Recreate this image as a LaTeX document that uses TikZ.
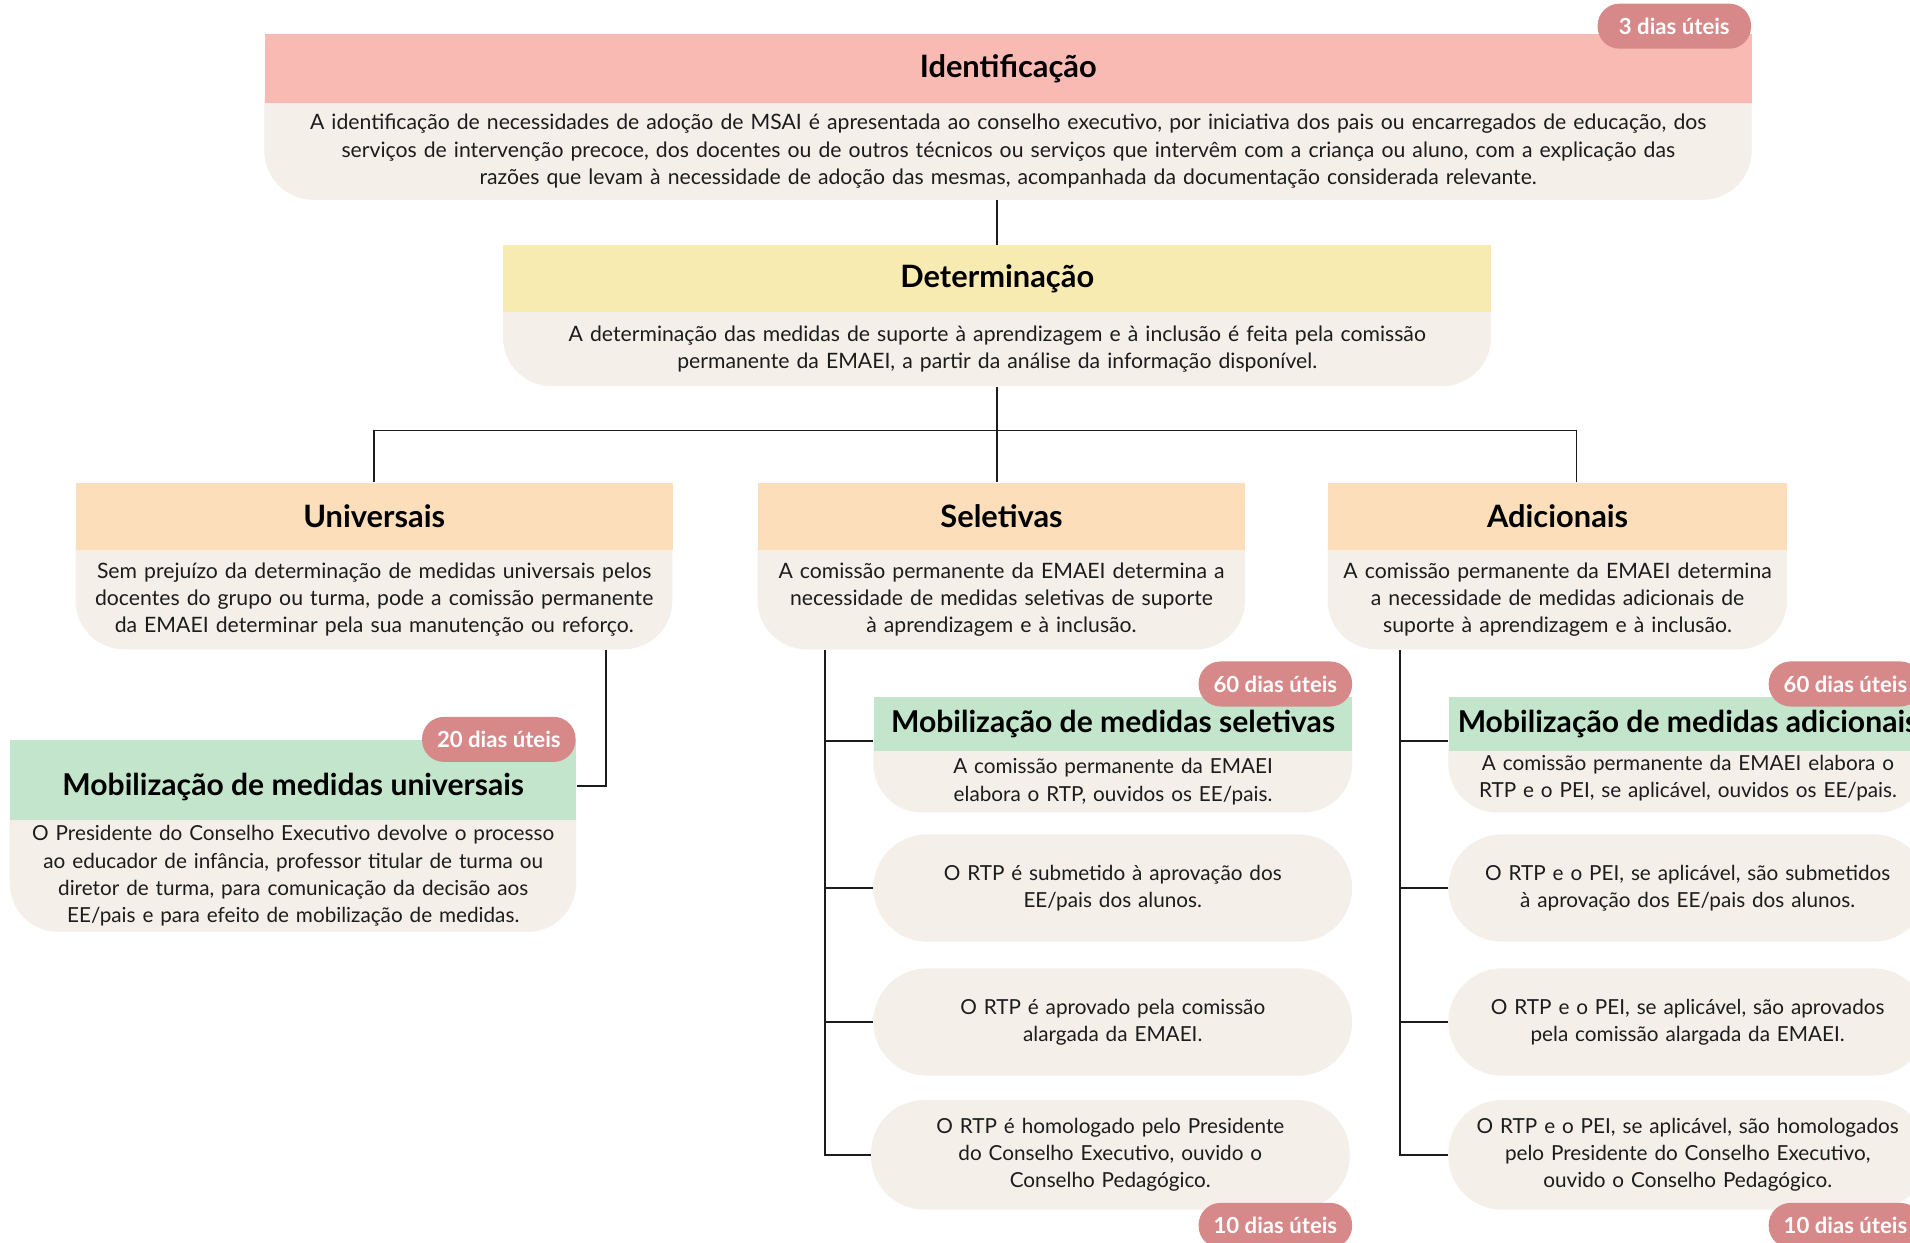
\documentclass[tikz,border=0pt]{standalone}
\usepackage{fontspec}
\setmainfont{Lato}
\definecolor{pinkH}{HTML}{F9BAB4}
\definecolor{yellowH}{HTML}{F8EBB1}
\definecolor{peachH}{HTML}{FCDFBA}
\definecolor{greenH}{HTML}{C2E5CB}
\definecolor{beigeB}{HTML}{F4EFE9}
\definecolor{badgeC}{HTML}{D78888}
\definecolor{inkC}{HTML}{1C1C1C}
\newcommand\stage[9]{%
  \pgfmathsetmacro\sW{#3-#2}%
  \pgfmathsetmacro\sHh{#5-#4}%
  \pgfmathsetmacro\sHb{#6-#5}%
  \pgfmathsetmacro\sTW{#3-#2-8}%
  \fill[beigeB, rounded corners=40pt] (#2,#5-40) rectangle (#3,#6);
  \node[#7, anchor=north west, minimum width=\sW pt, minimum height=\sHh pt] (#1-h) at (#2,#4) {#8};
  \node[stagebody, anchor=north west, minimum width=\sW pt, minimum height=\sHb pt, text width=\sTW pt] (#1-b) at (#2,#5) {#9};
}
\begin{document}
\begin{tikzpicture}[x=1pt,y=-1pt,
  hdr/.style={inner sep=0pt, text=black, font=\fontsize{25.3}{28}\selectfont\bfseries},
  hpink/.style={hdr, fill=pinkH},
  hyellow/.style={hdr, fill=yellowH},
  hpeach/.style={hdr, fill=peachH},
  hgreen/.style={hdr, fill=greenH, font=\fontsize{24.7}{28}\selectfont\bfseries},
  bodyA/.style={inner sep=0pt, align=center, text=inkC, font=\fontsize{17.4}{22.5}\selectfont},
  bodyB/.style={inner sep=0pt, align=center, text=inkC, font=\fontsize{17}{22.5}\selectfont},
  stagebody/.style={bodyA},
  pill/.style={bodyB, fill=beigeB, rounded corners=44pt, minimum width=393pt, text width=385pt},
  badge/.style={fill=badgeC, text=white, rounded corners=18pt, inner sep=0pt,
    minimum width=126pt, minimum height=37pt, font=\fontsize{18.2}{20}\selectfont\bfseries},
  conn/.style={draw=inkC, line width=1.6pt},
]
\useasboundingbox (0,0) rectangle (1568,1020);
\clip (0,0) rectangle (1568,1020);
\fill[white] (0,0) rectangle (1568,1020);

% ---- top level
\stage{id}{217}{1438}{28}{84}{164}{hpink}{Identificação}{A identificação de necessidades de adoção de MSAI é apresentada ao conselho executivo, por iniciativa dos pais ou encarregados de educação, dos\\ serviços de intervenção precoce, dos docentes ou de outros técnicos ou serviços que intervêm com a criança ou aluno, com a explicação das\\ razões que levam à necessidade de adoção das mesmas, acompanhada da documentação considerada relevante.}
\node[badge] (bId) at (1374.5,21.5) {3 dias úteis};

\stage{det}{413}{1224}{201}{256}{317}{hyellow}{Determinação}{A determinação das medidas de suporte à aprendizagem e à inclusão é feita pela comissão\\ permanente da EMAEI, a partir da análise da informação disponível.}

\stage{univ}{62}{552}{396}{451}{533}{hpeach}{Universais}{Sem prejuízo da determinação de medidas universais pelos\\ docentes do grupo ou turma, pode a comissão permanente\\ da EMAEI determinar pela sua manutenção ou reforço.}
\stage{sel}{622}{1022}{396}{451}{533}{hpeach}{Seletivas}{A comissão permanente da EMAEI determina a\\ necessidade de medidas seletivas de suporte\\ à aprendizagem e à inclusão.}
\stage{adic}{1090}{1467}{396}{451}{533}{hpeach}{Adicionais}{A comissão permanente da EMAEI determina\\ a necessidade de medidas adicionais de\\ suporte à aprendizagem e à inclusão.}

% ---- mobilization boxes
\tikzset{stagebody/.style={bodyB}}
\stage{mobu}{8}{473}{607}{673}{765}{hgreen}{\raisebox{-6pt}[\height][\depth]{Mobilização de medidas universais}}{O Presidente do Conselho Executivo devolve o processo\\ ao educador de infância, professor titular de turma ou\\ diretor de turma, para comunicação da decisão aos\\ EE/pais e para efeito de mobilização de medidas.}
\node[badge] (bU) at (409.5,607) {20 dias úteis};

\stage{mobs}{717}{1110}{572}{616}{667}{hgreen}{Mobilização de medidas seletivas}{A comissão permanente da EMAEI\\ elabora o RTP, ouvidos os EE/pais.}
\node[badge] (bS) at (1047,561.5) {60 dias úteis};

\stage{moba}{1189}{1582}{572}{616}{667}{hgreen}{Mobilização de medidas adicionais}{\raisebox{3pt}[\height][\depth]{\parbox{385pt}{\centering A comissão permanente da EMAEI elabora o\\ RTP e o PEI, se aplicável, ouvidos os EE/pais.}}}
\node[badge] (bA) at (1515,561.5) {60 dias úteis};

\node[pill, minimum height=88pt] (s2) at (913.5,729) {O RTP é submetido à aprovação dos\\ EE/pais dos alunos.};
\node[pill, minimum height=88pt] (s3) at (913.5,839) {O RTP é aprovado pela comissão\\ alargada da EMAEI.};
\node[pill, minimum height=90pt] (s4) at (911.5,948) {O RTP é homologado pelo Presidente\\ do Conselho Executivo, ouvido o\\ Conselho Pedagógico.};
\node[badge] (bS2) at (1047,1006) {10 dias úteis};

\node[pill, minimum height=88pt] (a2) at (1385.5,729) {O RTP e o PEI, se aplicável, são submetidos\\ à aprovação dos EE/pais dos alunos.};
\node[pill, minimum height=88pt] (a3) at (1385.5,839) {O RTP e o PEI, se aplicável, são aprovados\\ pela comissão alargada da EMAEI.};
\node[pill, minimum height=90pt] (a4) at (1385.5,948) {O RTP e o PEI, se aplicável, são homologados\\ pelo Presidente do Conselho Executivo,\\ ouvido o Conselho Pedagógico.};
\node[badge] (bA2) at (1515,1006) {10 dias úteis};

% ---- connectors
\draw[conn] (det-h.north) -- (det-h.north |- id-b.south);
\coordinate (split) at ([yshift=-36pt]det-b.south);
\draw[conn] (det-b.south) -- (split);
\draw[conn] (univ-h.north) |- (split);
\draw[conn] ([xshift=15.5pt]adic-h.north) |- (split);
\draw[conn] (split) -- (split |- sel-h.north);

\draw[conn] ([xshift=190pt]univ-b.south) |- ([yshift=-5pt]mobu-h.east);

\coordinate (st) at ([xshift=55pt]sel-b.south west);
\coordinate (msj) at ([yshift=-14pt]mobs-h.west);
\draw[conn] (st) |- (s4.west);
\draw[conn] (msj) -- (st |- msj);
\draw[conn] (s2.west) -- (st |- s2.west);
\draw[conn] (s3.west) -- (st |- s3.west);

\coordinate (at) at ([xshift=59pt]adic-b.south west);
\coordinate (maj) at ([yshift=-14pt]moba-h.west);
\draw[conn] (at) |- (a4.west);
\draw[conn] (maj) -- (at |- maj);
\draw[conn] (a2.west) -- (at |- a2.west);
\draw[conn] (a3.west) -- (at |- a3.west);
\end{tikzpicture}
\end{document}
